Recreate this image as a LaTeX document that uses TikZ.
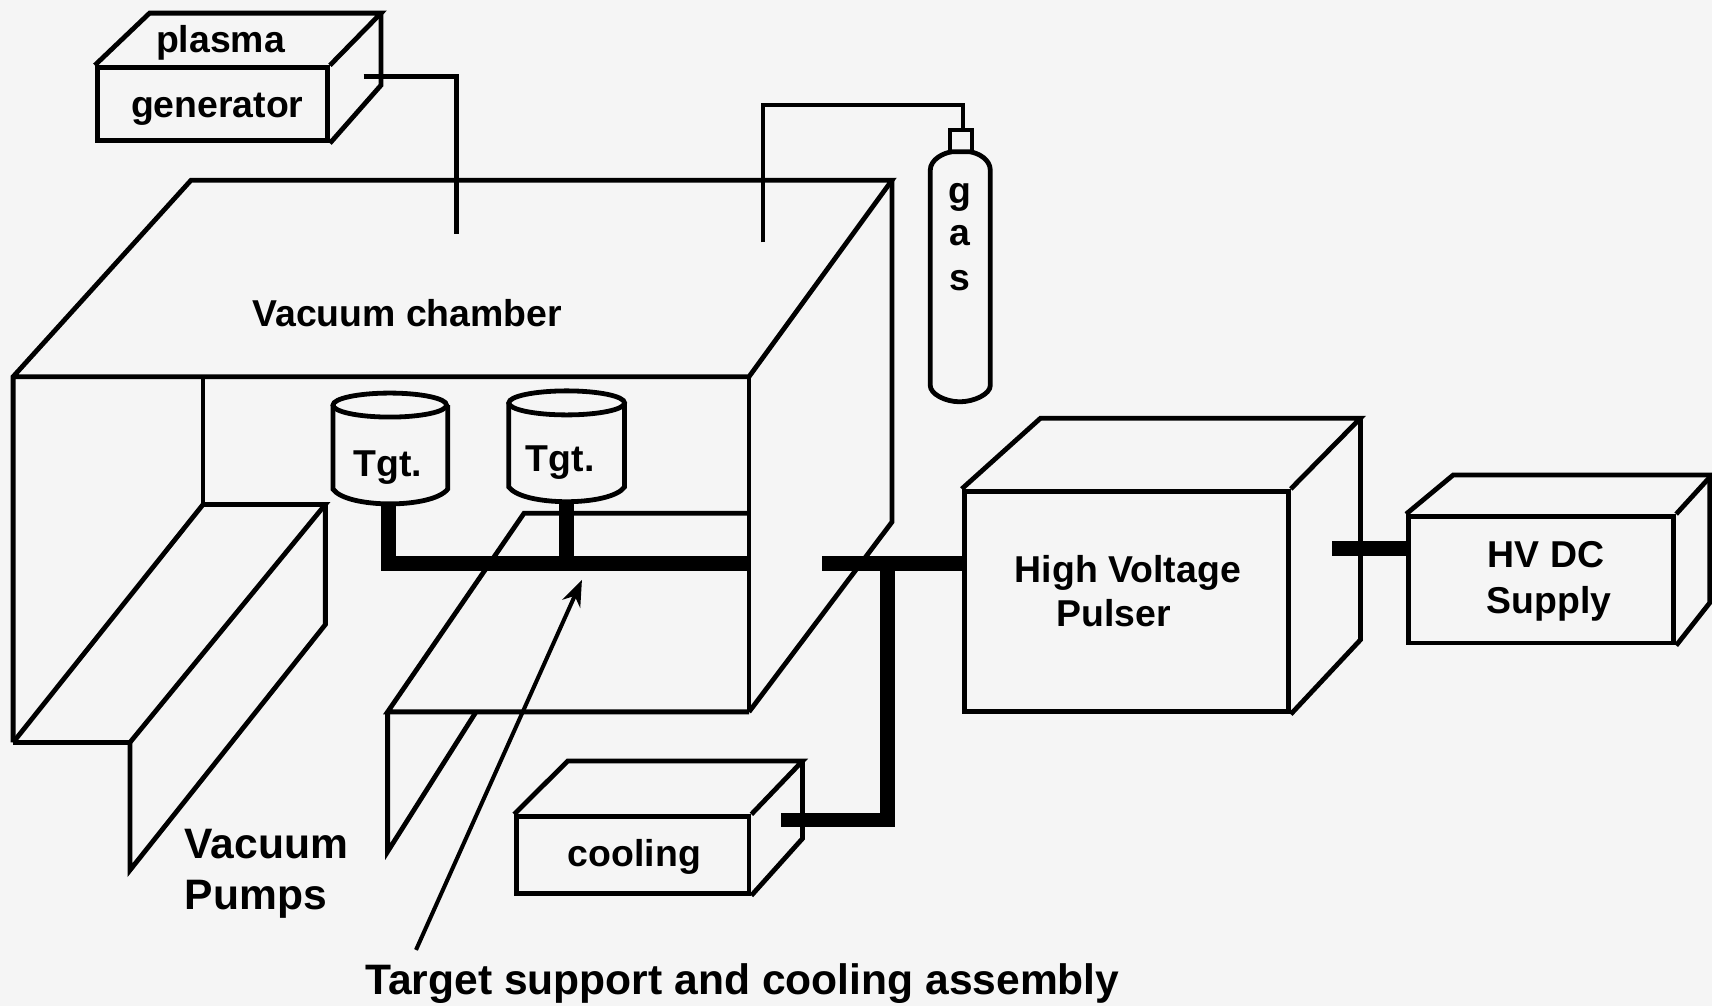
\documentclass[tikz,border=0pt]{standalone}
\usepackage{fontspec}
\setmainfont{Liberation Sans}
\usetikzlibrary{arrows.meta,positioning}
\definecolor{paper}{RGB}{245,245,245}

\begin{document}
\begin{tikzpicture}[
  x=0.02cm, y=-0.02cm,
  ln/.style={draw, line width=2.5pt},
  wire/.style={draw, line width=2.3pt},
  bar/.style={draw, line width=7.8pt},
  face/.style={ln, rectangle, inner sep=0pt},
  lbl/.style={font=\fontsize{19.5}{22}\selectfont\bfseries, inner sep=0pt},
  biglbl/.style={lbl, font=\fontsize{22.2}{25}\selectfont\bfseries},
  lnk/.style={-{Stealth[length=4.8mm,width=3.6mm]}, line width=2.1pt},
]
\fill[paper] (0,0) rectangle (1568,921.2);
\useasboundingbox (0,0) rectangle (1568,921.2);
% vacuum chamber
\draw[ln] (12,680) -- (12,345) -- (175,165) -- (817,165) -- (686,345) -- (12,345);
\draw[ln] (686,345) -- (686,652);
\draw[ln] (817,165) -- (817,478) -- (686,652);
\draw[ln] (186,345) -- (186,462);
\node[lbl] (chamber) at (373,287) {Vacuum chamber};
% left pump
\draw[ln] (12,680) -- (186,462) -- (298,462) -- (119,680) -- (12,680);
\draw[ln] (298,462) -- (298,572) -- (119,797) -- (119,680);
\node[biglbl, anchor=west] (pump1) at (169,773) {Vacuum};
\node[biglbl, anchor=west] (pump2) at (169,824) {Pumps};
% right pump
\draw[ln] (686,470) -- (480,470) -- (355,652) -- (686,652);
\draw[ln] (355,652) -- (355,780) -- (436,652);
% targets
\draw[ln] (357,371) ellipse [x radius=52, y radius=11];
\draw[ln] (305,371) -- (305,448) .. controls (318,466) and (396,466) .. (410,448) -- (410,371);
\draw[ln] (519,369) ellipse [x radius=53, y radius=11];
\draw[ln] (466,369) -- (466,446) .. controls (479,464) and (559,464) .. (572,446) -- (572,369);
\node[lbl] (tgt1) at (355,428) {Tgt.};
\node[lbl] (tgt2) at (513,424) {Tgt.};
\coordinate (tgt1foot) at (356,461);
\coordinate (tgt2foot) at (519,460);
\coordinate (feedin) at (686,516);
\draw[bar] (tgt1foot) -- (356,516) -- (feedin);
\draw[bar] (tgt2foot) -- (519,516);
% plasma generator
\node[face, minimum width=4.22cm, minimum height=1.34cm] (plasma) at (194.5,95.5) {};
\draw[ln] (plasma.north west) -- (137,12) -- (349,12) -- (plasma.north east);
\draw[ln] (349,12) -- (349,78) -- (plasma.south east);
\node[lbl] (plasmatxt) at (202,39) {plasma};
\node[lbl] (gentxt) at (199,100) {generator};
\coordinate (plasmaout) at (333,70);
\coordinate (plasmain) at (418,214);
\draw[wire] (plasmaout) -| (plasmain);
% gas bottle
\node[wire, rectangle, inner sep=0pt, minimum width=0.4cm, minimum height=0.4cm] (neck) at (880,129) {};
\draw[ln] (852,156) .. controls (852,146) and (864,140) .. (872,139) -- (888,139)
  .. controls (896,140) and (907,146) .. (907,156) -- (907,353)
  .. controls (907,361) and (892,368) .. (879,368) .. controls (866,368) and (852,361) .. (852,353) -- cycle;
\node[lbl] (gasg) at (879,181) {g};
\node[lbl] (gasa) at (879,216) {a};
\node[lbl] (gass) at (879,257) {s};
\coordinate (gasin) at (699,222);
\coordinate (gasbend) at (882,96);
\draw[wire] (gasin) |- (gasbend) -- (neck.north -| gasbend);
% high voltage pulser
\node[face, minimum width=5.94cm, minimum height=4.04cm] (pulser) at (1031.5,551) {};
\draw[ln] (pulser.north west) -- (953,383) -- (1246,383) -- (pulser.north east);
\draw[ln] (1246,383) -- (1246,586) -- (pulser.south east);
\node[lbl] (pulsertxt1) at (1033,525) {High Voltage};
\node[lbl] (pulsertxt2) at (1020,562) {Pulser};
% hv dc supply
\node[face, minimum width=4.86cm, minimum height=2.32cm] (supply) at (1411.5,531) {};
\draw[ln] (supply.north west) -- (1331,435) -- (1566,435) -- (1566,552) -- (supply.south east);
\draw[ln] (supply.north east) -- (1566,437);
\node[lbl] (supplytxt1) at (1416,508) {HV DC};
\node[lbl] (supplytxt2) at (1419,553) {Supply};
\coordinate (pulserout) at (1220,502);
\draw[bar] (pulserout) -- (pulserout -| supply.west);
% cooling
\node[face, minimum width=4.26cm, minimum height=1.4cm] (cooling) at (579.5,783) {};
\draw[ln] (cooling.north west) -- (520,697) -- (735,697) -- (cooling.north east);
\draw[ln] (735,697) -- (735,768) -- (cooling.south east);
\node[lbl] (coolingtxt) at (581,785) {cooling};
% feed lines
\coordinate (feedout) at (753,516);
\coordinate (coolout) at (715,751);
\coordinate (tee) at (813,516);
\draw[bar] (feedout) -- (feedout -| pulser.west);
\draw[bar] (tee) -- (813,751) -- (coolout);
% target assembly pointer
\node[biglbl] (assembly) at (680,901) {Target support and cooling assembly};
\coordinate (ptail) at (381,870);
\coordinate (ptip) at (533,531);
\draw[lnk] (ptail) -- (ptip);
\end{tikzpicture}
\end{document}
